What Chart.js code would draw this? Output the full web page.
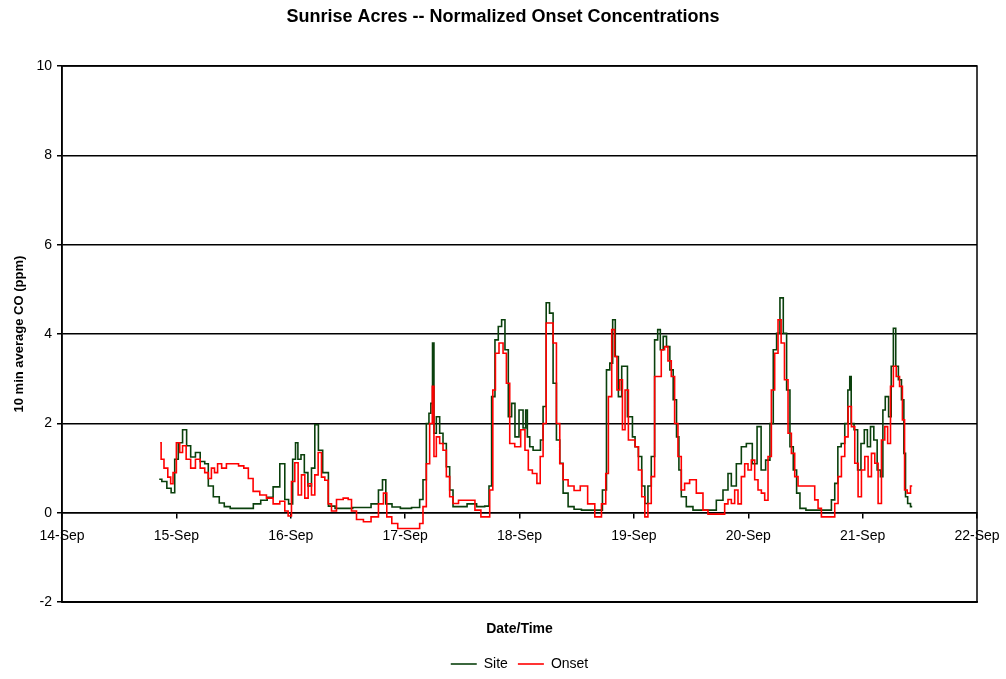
<!DOCTYPE html>
<html>
<head>
<meta charset="utf-8">
<title>Sunrise Acres -- Normalized Onset Concentrations</title>
<script src="https://cdn.jsdelivr.net/npm/chart.js@4/dist/chart.umd.min.js"></script>
<style>
    html, body { margin: 0; padding: 0; background: #fff; }
    #wrap { width: 1006px; height: 679px; }
</style>
</head>
<body>
<div id="wrap"><canvas id="coChart" width="1006" height="679"></canvas></div>
<script>
// hours counted from 14-Sep 00:00, values in ppm
const siteHours = [20.4, 21.5, 22.5, 23.3, 24.0, 24.8, 25.8, 26.5, 27.5, 28.5, 29.5, 30.4, 31.0, 32.5, 33.5, 34.6, 36, 38, 39.4, 40.9,
    42.5, 43.6, 45, 46.4, 47.1, 48.0, 48.8, 49.2, 49.8, 50.5, 51.2, 52.0, 52.7, 53.4, 54.2, 55.2, 56.6, 58, 60, 62,
    64, 65.7, 67.1, 67.4, 68.5, 70, 72, 74.7, 75.4, 76.1, 76.8, 77.2, 77.6, 77.9, 78.2, 78.9, 79.6, 80.3, 81.0, 81.7,
    82.4, 84, 86, 88, 89.4, 89.8, 90.5, 91.2, 91.9, 92.6, 93.3, 94.0, 94.7, 95.4, 96.4, 97.1, 97.5, 97.8, 98.5, 99.2,
    100.2, 100.6, 101.3, 101.9, 102.7, 103.4, 104.1, 104.8, 105.5, 106.9, 108, 110, 112.9, 113.9, 114.6, 115.3, 115.8, 116.4, 117.1, 117.8,
    118.5, 118.8, 119.5, 119.9, 120.6, 121.3, 122.0, 122.6, 123.3, 124.0, 124.7, 125.3, 125.8, 126.5, 127.2, 127.9, 128.6, 129.3, 129.6, 130.3,
    131.7, 133.1, 136.6, 138.0, 139.4, 140.1, 140.8, 142.2, 142.9, 144.3, 145.4, 146.3, 147.1, 148.2, 148.9, 149.6, 150.3, 151.0, 151.7, 152.4,
    153.1, 153.8, 154.5, 155.2, 157, 159, 161.1, 161.8, 162.5, 163.1, 163.9, 164.6, 165.2, 165.4, 165.8, 166.6, 167.3, 168.0, 168.7, 169.3,
    170.0, 170.7, 171.4, 172.1, 172.4, 173.1, 173.8, 174.2, 174.7, 175.2, 175.8, 176.5, 176.8, 177.2, 177.7, 178.4];
const siteValues = [0.75, 0.7, 0.55, 0.45, 1.2, 1.57, 1.86, 1.5, 1.25, 1.35, 1.15, 1.1, 0.6, 0.36, 0.22, 0.14, 0.1, 0.1, 0.1, 0.2,
    0.28, 0.35, 0.58, 1.1, 0.3, 0.2, 1.2, 1.57, 1.2, 1.3, 0.9, 0.6, 1.0, 1.97, 1.4, 0.9, 0.15, 0.1, 0.1, 0.12,
    0.12, 0.2, 0.51, 0.74, 0.2, 0.13, 0.1, 0.12, 0.3, 0.74, 2.0, 2.23, 2.45, 3.8, 1.78, 2.15, 1.78, 1.55, 1.03, 0.51,
    0.14, 0.14, 0.2, 0.14, 0.15, 0.6, 2.6, 3.87, 4.17, 4.32, 3.65, 2.15, 2.45, 1.7, 2.3, 1.9, 2.3, 1.7, 1.48, 1.4,
    1.4, 1.63, 2.38, 4.7, 4.47, 2.9, 1.63, 1.11, 0.44, 0.14, 0.08, 0.06, 0.06, 0.51, 3.2, 3.35, 4.32, 3.5, 2.6, 3.28,
    3.28, 2.15, 2.15, 1.7, 1.48, 1.26, 0.6, 0.21, 0.6, 1.26, 3.87, 4.1, 3.65, 3.95, 3.72, 3.2, 2.53, 1.7, 0.96, 0.36,
    0.14, 0.06, 0.06, 0.28, 0.51, 0.88, 0.6, 1.1, 1.48, 1.55, 1.1, 1.93, 0.96, 1.18, 2.0, 3.65, 4.02, 4.81, 4.02, 2.75,
    1.48, 0.96, 0.44, 0.1, 0.06, 0.06, 0.06, 0.29, 0.66, 1.48, 1.55, 2.0, 2.75, 3.05, 2.0, 1.86, 0.96, 1.55, 1.86, 1.48,
    1.93, 1.63, 0.96, 0.81, 2.3, 2.6, 2.15, 3.28, 4.13, 3.28, 2.98, 2.53, 1.33, 0.36, 0.21, 0.14];

const onsetHours = [20.6, 21.0, 21.8, 22.6, 23.0, 23.6, 24.4, 25.0, 25.6, 26.5, 27.5, 28.5, 29.5, 30.4, 31.0, 31.7, 32.3, 33.0, 34, 35,
    36.6, 37.5, 38.8, 39.4, 40.8, 42.2, 43.6, 45.0, 46.4, 47.1, 47.8, 48.5, 49.2, 49.9, 50.6, 51.3, 52.0, 52.7, 53.4, 54.1,
    54.8, 55.5, 56.2, 56.9, 58.3, 59.7, 60.4, 61.1, 62.5, 64, 65.7, 67.1, 67.8, 68.5, 69.9, 71, 73, 74.7, 75.4, 76.1,
    76.8, 77.5, 77.9, 78.2, 78.9, 79.6, 80.3, 81.0, 81.7, 82.4, 84, 86, 87.3, 88.5, 89.4, 90.1, 90.7, 91.2, 92.2, 92.9,
    93.6, 94.3, 95.7, 96.8, 97.5, 98.2, 99.2, 100.1, 100.6, 101.3, 101.9, 102.7, 103.4, 104.1, 104.8, 105.5, 106.9, 108, 109.5, 111.1,
    112.5, 113.9, 114.3, 115.0, 115.7, 116.2, 116.7, 117.4, 117.8, 118.5, 119.2, 119.9, 120.6, 121.3, 122.0, 122.6, 123.3, 124.0, 124.7, 125.4,
    126.1, 126.8, 127.5, 128.2, 128.9, 129.6, 130.3, 131.0, 132.4, 133.8, 135.2, 135.9, 138.7, 139.4, 140.1, 140.8, 141.5, 142.2, 142.9, 143.6,
    144.3, 145.0, 145.7, 146.4, 147.1, 147.8, 148.5, 149.2, 149.9, 150.6, 151.2, 152.0, 152.7, 153.4, 154.1, 154.8, 157.6, 158.3, 159.0, 159.7,
    161.8, 162.5, 163.2, 163.9, 164.6, 165.3, 166.0, 166.7, 167.4, 168.1, 168.8, 169.5, 170.2, 170.9, 171.6, 172.3, 173.0, 173.5, 174.2, 174.7,
    175.4, 176.1, 176.6, 177.0, 177.7, 178.4];
const onsetValues = [1.57, 1.2, 1.0, 0.8, 0.65, 0.9, 1.57, 1.35, 1.5, 1.2, 1.0, 1.2, 1.0, 0.9, 0.77, 1.0, 0.9, 1.1, 1.0, 1.1,
    1.1, 1.05, 1.0, 0.77, 0.48, 0.4, 0.33, 0.2, 0.26, 0.04, -0.07, 0.7, 1.12, 0.4, 0.85, 0.33, 0.65, 0.4, 0.85, 1.35,
    0.8, 0.73, 0.2, 0.04, 0.3, 0.33, 0.3, 0.04, -0.15, -0.2, -0.09, 0.2, 0.44, -0.09, -0.24, -0.35, -0.35, -0.35, -0.24, 0.14,
    1.1, 2.0, 2.83, 1.26, 1.7, 1.55, 1.4, 0.81, 0.36, 0.21, 0.28, 0.28, 0.06, -0.09, -0.09, 0.51, 2.75, 3.57, 3.8, 3.57,
    2.9, 1.55, 1.48, 1.86, 1.4, 0.96, 0.88, 0.66, 1.26, 2.0, 4.25, 4.25, 3.8, 2.0, 1.1, 0.74, 0.6, 0.5, 0.6, 0.2,
    -0.09, 0.2, 0.88, 2.6, 4.1, 3.5, 2.75, 2.98, 1.86, 2.75, 1.63, 1.63, 1.48, 0.96, 0.36, -0.09, 0.21, 0.81, 3.05, 3.05,
    3.65, 3.72, 3.4, 3.05, 2.0, 1.26, 0.51, 0.66, 0.74, 0.44, 0.06, -0.03, -0.03, 0.2, 0.3, 0.21, 0.51, 0.2, 0.81, 1.1,
    0.96, 1.18, 0.74, 0.51, 0.44, 0.28, 1.26, 2.75, 3.57, 4.32, 3.8, 2.98, 1.78, 1.33, 0.81, 0.6, 0.6, 0.29, 0.1, -0.09,
    -0.09, 0.21, 0.81, 1.26, 1.7, 2.38, 1.93, 1.11, 0.36, 0.96, 1.26, 0.81, 1.33, 1.11, 0.21, 1.63, 1.93, 1.55, 2.83, 3.28,
    3.05, 2.83, 2.08, 0.51, 0.44, 0.6];

const firstDay = 14;
const lastDay = 22;
const monthLabel = "Sep";

function toPoints(hours, values) {
    return hours.map((h, i) => ({ x: firstDay + h / 24, y: values[i] }));
}

// plot box: draw the right/top edges of the frame
const frameBox = {
    id: "frameBox",
    afterDraw(chart) {
        const a = chart.chartArea;
        const ctx = chart.ctx;
        ctx.save();
        ctx.strokeStyle = "#000";
        ctx.lineWidth = 1.5;
        ctx.strokeRect(a.left, a.top, a.right - a.left, a.bottom - a.top);
        ctx.restore();
    }
};

Chart.defaults.font.family = "'Liberation Sans', Arial, sans-serif";
Chart.defaults.color = "#000";

new Chart(document.getElementById("coChart"), {
    type: "line",
    data: {
        datasets: [{
            label: "Site",
            data: toPoints(siteHours, siteValues),
            borderColor: "#0a400c",
            backgroundColor: "#0a400c",
            borderWidth: 1.6,
            pointRadius: 0,
            stepped: "middle",
            order: 1
        }, {
            label: "Onset",
            data: toPoints(onsetHours, onsetValues),
            borderColor: "#ff0000",
            backgroundColor: "#ff0000",
            borderWidth: 1.6,
            pointRadius: 0,
            stepped: "middle",
            order: 0
        }]
    },
    options: {
        responsive: false,
        animation: false,
        layout: { padding: { left: 0, right: 0, top: 0, bottom: -2 } },
        plugins: {
            title: {
                display: true,
                text: "Sunrise Acres -- Normalized Onset Concentrations",
                font: { size: 18, weight: "bold" },
                color: "#000",
                padding: { top: 6, bottom: 38.4 }
            },
            legend: {
                position: "bottom",
                fullSize: false,
                labels: {
                    usePointStyle: true,
                    pointStyle: "line",
                    pointStyleWidth: 26,
                    boxHeight: 14,
                    font: { size: 14 },
                    color: "#000",
                    padding: 10,
                    sort: (a, b) => a.datasetIndex - b.datasetIndex
                }
            },
            tooltip: { enabled: false }
        },
        scales: {
            x: {
                type: "linear",
                min: firstDay,
                max: lastDay,
                position: { y: 0 },
                ticks: {
                    stepSize: 1,
                    autoSkip: false,
                    maxRotation: 0,
                    padding: 10,
                    font: { size: 14 },
                    callback: v => v + "-" + monthLabel
                },
                grid: { drawOnChartArea: false, drawTicks: true, tickLength: 5, color: "#000", lineWidth: 1.5 },
                border: { display: true, color: "#000", width: 1.5 },
                afterFit: s => { s.paddingLeft = 0; s.paddingRight = 0; }
            },
            x2: {
                type: "linear",
                min: firstDay,
                max: lastDay,
                position: "bottom",
                ticks: { display: false },
                grid: { display: false },
                border: { display: true, color: "#000", width: 1.5 },
                title: {
                    display: true,
                    text: "Date/Time",
                    font: { size: 14, weight: "bold" },
                    color: "#000",
                    padding: { top: 11, bottom: 9 }
                }
            },
            y: {
                min: -2,
                max: 10,
                ticks: { stepSize: 2, padding: 5, font: { size: 14 } },
                grid: { color: "#000", lineWidth: 1.5, tickLength: 5 },
                border: { display: true, color: "#000", width: 1.5 },
                title: {
                    display: true,
                    text: "10 min average CO (ppm)",
                    font: { size: 13, weight: "bold" },
                    color: "#000",
                    padding: { top: 12, bottom: 0 }
                },
                afterFit: s => { s.width = 62; }
            },
            yRight: {
                position: "right",
                min: -2,
                max: 10,
                ticks: { display: false },
                grid: { display: false },
                border: { display: false },
                afterFit: s => { s.width = 29; }
            }
        }
    },
    plugins: [frameBox]
});
</script>
</body>
</html>
